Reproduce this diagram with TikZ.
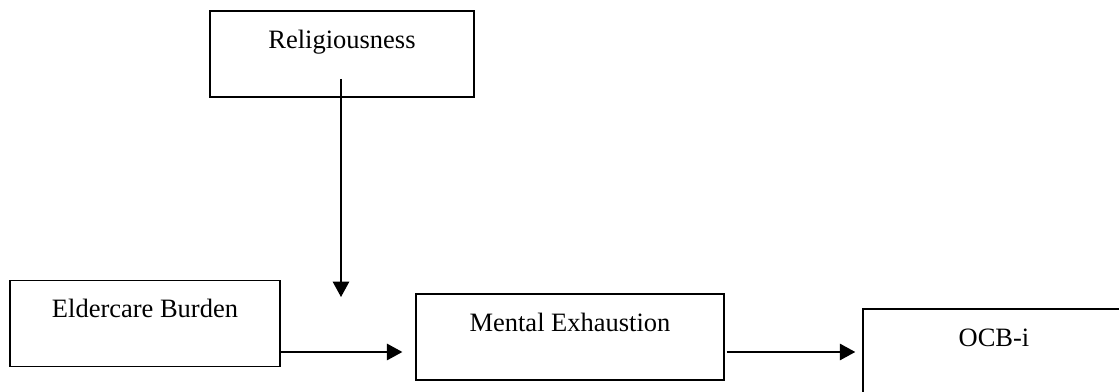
\documentclass[tikz,border=0pt]{standalone}
\usepackage{fontspec}
\setmainfont{Liberation Serif}
\usetikzlibrary{arrows.meta}

\begin{document}
\begin{tikzpicture}[x=0.453pt, y=-0.453pt,
    box/.style={draw, line width=0.6pt, inner sep=0pt, text height=16.8pt,
        text depth=22.2pt, font=\fontsize{12}{14}\selectfont},
    arr/.style={line width=0.6pt, -{Triangle[length=7pt, width=7.5pt]}}]

    \clip (0,0) rectangle (1119,392);

    % boxes
    \node[box, minimum width=119.6pt] (relig) at (342,54) {Religiousness};
    \node[box, minimum width=122.3pt] (elder) at (145,323.5) {Eldercare Burden};
    \node[box, minimum width=139.5pt] (mental) at (570,337) {Mental Exhaustion};
    \node[box, minimum width=118.7pt] (ocb) at (994,352) {OCB-i};

    % moderator arrow
    \coordinate (modstart) at (341,79);
    \coordinate (modend) at (341,297);
    \draw[arr] (modstart) -- (modend);

    % paths
    \coordinate (pathline) at (0,352);
    \draw[arr, shorten >=5.9pt] (elder.east |- pathline) -- (mental.west |- pathline);
    \draw[arr, shorten >=3.2pt] ([xshift=0.9pt]mental.east |- pathline) -- (ocb.west |- pathline);

\end{tikzpicture}
\end{document}
